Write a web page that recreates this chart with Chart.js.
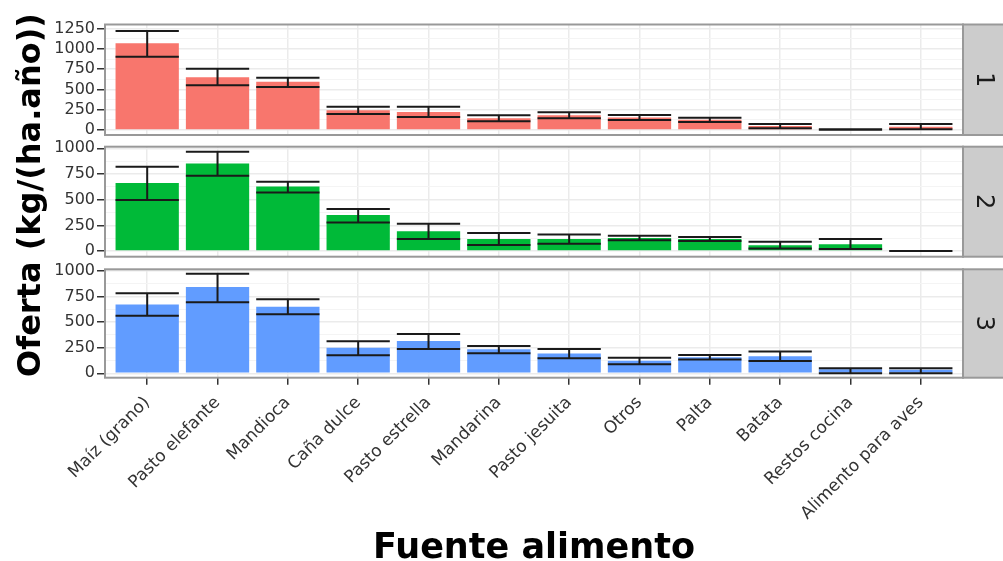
<!DOCTYPE html>
<html>
<head>
<meta charset="utf-8">
<script src="https://cdn.jsdelivr.net/npm/chart.js@4.4.1/dist/chart.umd.min.js"></script>
<style>
  html, body { margin: 0; padding: 0; background: #fff; }
  #wrap { position: relative; width: 1003px; height: 561px; overflow: hidden; }
  #wrap canvas { position: absolute; left: 0; top: 0; }
</style>
</head>
<body>
<div id="wrap">
  <canvas id="p1" width="1003" height="561"></canvas>
  <canvas id="p2" width="1003" height="561"></canvas>
  <canvas id="p3" width="1003" height="561"></canvas>
</div>
<script>
// food sources (x axis)
const categories = ['Maíz (grano)', 'Pasto elefante', 'Mandioca', 'Caña dulce', 'Pasto estrella',
  'Mandarina', 'Pasto jesuita', 'Otros', 'Palta', 'Batata', 'Restos cocina', 'Alimento para aves'];

// panel 1
const mean1 = [1070, 652, 595, 243, 223, 146, 183, 155, 126, 48, 6, 41];
const lo1   = [905, 551, 530, 197, 160, 107, 144, 123, 99, 21, 3, 8];
const hi1   = [1221, 757, 646, 288, 288, 181, 218, 185, 152, 74, 10, 74];
// panel 2
const mean2 = [662, 852, 628, 350, 193, 118, 118, 127, 117, 57, 67, 0];
const lo2   = [497, 734, 571, 279, 117, 58, 71, 104, 97, 26, 19, 0];
const hi2   = [821, 968, 675, 409, 266, 175, 162, 149, 136, 91, 117, 0];
// panel 3
const mean3 = [674, 843, 652, 250, 315, 236, 193, 122, 158, 167, 40, 35];
const lo3   = [564, 694, 577, 176, 238, 195, 147, 88, 134, 120, 0, 0];
const hi3   = [782, 974, 723, 313, 384, 267, 238, 153, 179, 212, 49, 49];

const yTicks1 = [0, 250, 500, 750, 1000, 1250];
const yTicks2 = [0, 250, 500, 750, 1000];
const yTicks3 = [0, 250, 500, 750, 1000];
const panelLabels = ['1', '2', '3'];
const xTitle = 'Fuente alimento';
const yTitle = 'Oferta (kg/(ha.año))';

const FONT = '"DejaVu Sans", sans-serif';

// border, strip, error bars
const panelDecor = {
  id: 'panelDecor',
  afterDatasetsDraw(chart, args, opts) {
    const ctx = chart.ctx;
    const meta = chart.getDatasetMeta(0);
    const y = chart.scales.y;
    ctx.save();
    ctx.strokeStyle = '#1a1a1a';
    ctx.lineWidth = 2;
    meta.data.forEach((bar, i) => {
      const half = bar.width / 2;
      const yl = y.getPixelForValue(opts.lo[i]);
      const yh = y.getPixelForValue(opts.hi[i]);
      ctx.beginPath();
      ctx.moveTo(bar.x, yh); ctx.lineTo(bar.x, yl);
      ctx.moveTo(bar.x - half, yh); ctx.lineTo(bar.x + half, yh);
      ctx.moveTo(bar.x - half, yl); ctx.lineTo(bar.x + half, yl);
      ctx.stroke();
    });
    ctx.restore();
  },
  afterDraw(chart, args, opts) {
    const ctx = chart.ctx;
    const a = chart.chartArea;
    ctx.save();
    ctx.fillStyle = '#cccccc';
    ctx.fillRect(a.right, a.top, chart.width - a.right + 2, a.bottom - a.top);
    ctx.strokeStyle = '#999999';
    ctx.lineWidth = 2;
    ctx.strokeRect(a.left, a.top, a.right - a.left, a.bottom - a.top);
    ctx.strokeRect(a.right, a.top, chart.width - a.right + 4, a.bottom - a.top);
    ctx.translate((a.right + chart.width) / 2, (a.top + a.bottom) / 2);
    ctx.rotate(Math.PI / 2);
    ctx.fillStyle = '#1a1a1a';
    ctx.font = '24px ' + FONT;
    ctx.textAlign = 'center';
    ctx.textBaseline = 'middle';
    ctx.fillText(opts.label, 0, 0);
    ctx.restore();
    if (opts.yTitle) {
      ctx.save();
      ctx.translate(32, 195);
      ctx.rotate(-Math.PI / 2);
      ctx.fillStyle = '#000';
      ctx.font = 'bold 32px ' + FONT;
      ctx.textAlign = 'center';
      ctx.textBaseline = 'middle';
      ctx.fillText(opts.yTitle, 0, 0);
      ctx.restore();
    }
  }
};

function makePanel(id, p) {
  const isMajor = v => p.ticks.includes(v);
  return new Chart(document.getElementById(id), {
    type: 'bar',
    data: {
      datasets: [{
        data: p.mean.map((v, i) => ({ x: i + 1, y: v })),
        backgroundColor: p.color,
        barPercentage: 0.9,
        categoryPercentage: 1
      }]
    },
    options: {
      responsive: false,
      animation: false,
      layout: { padding: { top: p.top, bottom: p.bottom, left: 0, right: 40 } },
      plugins: {
        legend: { display: false },
        tooltip: { enabled: false },
        panelDecor: { lo: p.lo, hi: p.hi, label: p.label, yTitle: p.yTitle }
      },
      scales: {
        x: {
          type: 'linear',
          min: 0.4,
          max: 12.6,
          offset: false,
          afterBuildTicks: s => { s.ticks = categories.map((c, i) => ({ value: i + 1 })); },
          afterFit: s => { s.height = p.xHeight; },
          border: { display: false },
          grid: {
            offset: false, color: '#ebebeb', lineWidth: 1.5,
            drawTicks: p.showX, tickLength: 7, tickColor: '#333', tickWidth: 1.5
          },
          ticks: {
            display: p.showX, autoSkip: false, minRotation: 45, maxRotation: 45, padding: 8,
            color: '#333', font: { family: FONT, size: 17 },
            callback: v => categories[v - 1]
          },
          title: {
            display: p.showX, text: xTitle, color: '#000',
            font: { family: FONT, size: 35, weight: 'bold', lineHeight: 1 },
            padding: { top: 0, bottom: -5 }
          }
        },
        y: {
          min: p.yMin,
          max: p.yMax,
          afterBuildTicks: s => {
            const vals = [];
            p.ticks.forEach(t => {
              vals.push(t);
              if (t + 125 <= p.yMax && !p.ticks.includes(t + 125)) vals.push(t + 125);
            });
            s.ticks = vals.sort((a, b) => a - b).map(v => ({ value: v }));
          },
          afterFit: s => { s.width = 105; },
          border: { display: false },
          grid: {
            color: c => isMajor(c.tick.value) ? '#ebebeb' : '#f4f4f4',
            lineWidth: c => isMajor(c.tick.value) ? 1.5 : 1,
            tickLength: 8,
            tickWidth: 1.5,
            tickColor: c => isMajor(c.tick.value) ? '#333' : 'rgba(0,0,0,0)'
          },
          ticks: {
            autoSkip: false, padding: 2, color: '#333',
            font: { family: FONT, size: 16 },
            callback: v => isMajor(v) ? String(v) : ''
          }
        }
      }
    },
    plugins: [panelDecor]
  });
}

makePanel('p1', { mean: mean1, lo: lo1, hi: hi1, color: '#F8766D', ticks: yTicks1,
  yMin: -62, yMax: 1302, top: 24.5, bottom: 426, xHeight: 0, showX: false, label: panelLabels[0] });
makePanel('p2', { mean: mean2, lo: lo2, hi: hi2, color: '#00BA38', ticks: yTicks2,
  yMin: -55, yMax: 1016, top: 146.7, bottom: 304.3, xHeight: 0, showX: false, label: panelLabels[1], yTitle: yTitle });
makePanel('p3', { mean: mean3, lo: lo3, hi: hi3, color: '#619CFF', ticks: yTicks3,
  yMin: -43, yMax: 1017, top: 269.3, bottom: 0, xHeight: 183.3, showX: true, label: panelLabels[2] });
</script>
</body>
</html>
